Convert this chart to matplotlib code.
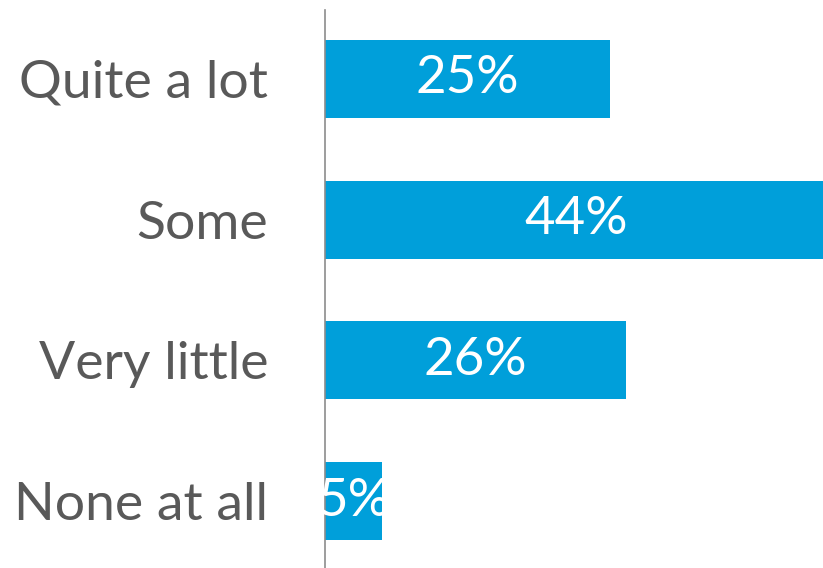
import matplotlib
matplotlib.use("Agg")
import matplotlib.pyplot as plt

# Data (bar lengths as drawn, labels as printed)
categories = ["Quite a lot", "Some", "Very little", "None at all"]
values = [25, 44, 26.4, 5]
value_labels = ["25%", "44%", "26%", "5%"]

bar_color = "#009FDA"
text_color = "#595959"

plt.rcParams['font.family'] = ['Lato', 'DejaVu Sans']

fig = plt.figure(figsize=(8.23, 5.68), dpi=100)
ax = fig.add_axes([325 / 823, 0.0, 1 - 325 / 823, 1 - 10 / 568])

pos = list(range(len(categories)))
bars = ax.barh(pos, values, height=0.555, color=bar_color)

ax.set_xlim(0, 43.7)
ax.set_ylim(3.476, -0.49)

for bar, lab in zip(bars, value_labels):
    cx = bar.get_x() + bar.get_width() / 2
    cy = bar.get_y() + bar.get_height() / 2
    t = ax.text(cx, cy, lab, ha="center", va="center", color="white", fontsize=38)
    t.set_clip_path(bar)

ax.set_yticks(pos)
ax.set_yticklabels(categories, fontsize=38.5, color=text_color)
ax.tick_params(axis="y", length=0, pad=41)
ax.set_xticks([])

for side in ["top", "right", "bottom"]:
    ax.spines[side].set_visible(False)
ax.spines["left"].set_color("#8C8C8C")
ax.spines["left"].set_linewidth(1.2)

fig.savefig("out.png", dpi=100)
